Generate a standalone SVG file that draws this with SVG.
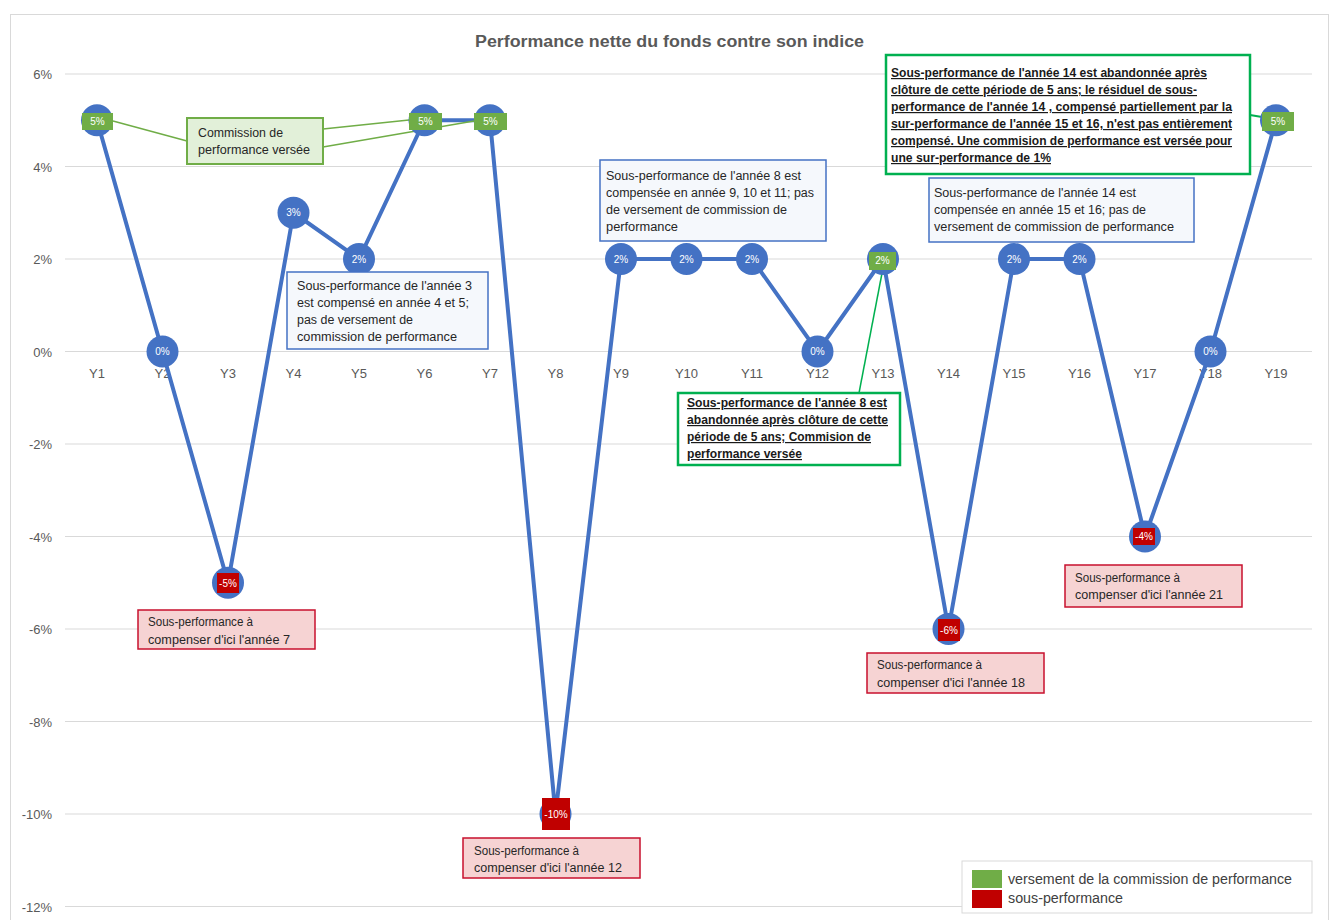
<svg xmlns="http://www.w3.org/2000/svg" width="1333" height="920" viewBox="0 0 1333 920">
<style>
text{font-family:"Liberation Sans",Arial,sans-serif}
.grid{stroke:#D9D9D9;stroke-width:1}
.ax{font-size:13px;fill:#595959}
.ay{font-size:13px;fill:#595959;text-anchor:end}
.dot{fill:#4472C4}
.dl{font-size:10px;fill:#FFFFFF;text-anchor:middle}
.gl{fill:#70AD47}
.rl{fill:#C00000}
.cb{fill:#F5F8FC;stroke:#4472C4;stroke-width:1.5}
.cr{fill:#F6D3D3;stroke:#C8102E;stroke-width:1.5}
.cg{fill:#E2F0D9;stroke:#70AD47;stroke-width:2}
.cgb{fill:#FFFFFF;stroke:#00B050;stroke-width:2.5}
.t{font-size:12px;fill:#262626}
.tb{font-size:12px;fill:#1a1a1a;font-weight:bold;text-decoration:underline}
.lg{font-size:14px;fill:#404040}
</style>
<rect x="0" y="0" width="1333" height="920" fill="#FFFFFF"/>
<rect x="10.5" y="14.5" width="1318" height="920" fill="#FFFFFF" stroke="#D9D9D9" stroke-width="1"/>
<text x="669.5" y="47" text-anchor="middle" font-size="16" font-weight="bold" fill="#595959" textLength="389" lengthAdjust="spacingAndGlyphs">Performance nette du fonds contre son indice</text>
<g id="gridlines">
<line class="grid" x1="65" y1="74" x2="1312" y2="74"/>
<line class="grid" x1="65" y1="166.5" x2="1312" y2="166.5"/>
<line class="grid" x1="65" y1="259" x2="1312" y2="259"/>
<line class="grid" x1="65" y1="351.5" x2="1312" y2="351.5"/>
<line class="grid" x1="65" y1="444" x2="1312" y2="444"/>
<line class="grid" x1="65" y1="536.5" x2="1312" y2="536.5"/>
<line class="grid" x1="65" y1="629" x2="1312" y2="629"/>
<line class="grid" x1="65" y1="721.5" x2="1312" y2="721.5"/>
<line class="grid" x1="65" y1="814" x2="1312" y2="814"/>
<line class="grid" x1="65" y1="906.5" x2="1312" y2="906.5"/>
</g>
<g id="y-axis">
<text class="ay" x="52" y="79">6%</text>
<text class="ay" x="52" y="171.5">4%</text>
<text class="ay" x="52" y="264">2%</text>
<text class="ay" x="52" y="356.5">0%</text>
<text class="ay" x="52" y="449">-2%</text>
<text class="ay" x="52" y="541.5">-4%</text>
<text class="ay" x="52" y="634">-6%</text>
<text class="ay" x="52" y="726.5">-8%</text>
<text class="ay" x="52" y="819">-10%</text>
<text class="ay" x="52" y="911.5">-12%</text>
</g>
<g id="x-axis" text-anchor="middle">
<text class="ax" x="97" y="378">Y1</text>
<text class="ax" x="162.5" y="378">Y2</text>
<text class="ax" x="228" y="378">Y3</text>
<text class="ax" x="293.5" y="378">Y4</text>
<text class="ax" x="359" y="378">Y5</text>
<text class="ax" x="424.5" y="378">Y6</text>
<text class="ax" x="490" y="378">Y7</text>
<text class="ax" x="555.5" y="378">Y8</text>
<text class="ax" x="621" y="378">Y9</text>
<text class="ax" x="686.5" y="378">Y10</text>
<text class="ax" x="752" y="378">Y11</text>
<text class="ax" x="817.5" y="378">Y12</text>
<text class="ax" x="883" y="378">Y13</text>
<text class="ax" x="948.5" y="378">Y14</text>
<text class="ax" x="1014" y="378">Y15</text>
<text class="ax" x="1079.5" y="378">Y16</text>
<text class="ax" x="1145" y="378">Y17</text>
<text class="ax" x="1210.5" y="378">Y18</text>
<text class="ax" x="1276" y="378">Y19</text>
</g>
<g id="connectors" fill="none">
<polyline stroke="#4472C4" stroke-width="4" stroke-linejoin="round" points="97,120.25 162.5,351.5 228,582.75 293.5,212.75 359,259 424.5,120.25 490,120.25 555.5,814 621,259 686.5,259 752,259 817.5,351.5 883,259 948.5,629 1014,259 1079.5,259 1145,536.5 1210.5,351.5 1276,120.25"/>
<line x1="113" y1="121" x2="187" y2="141" stroke="#70AD47" stroke-width="1.5"/>
<line x1="323" y1="129" x2="409" y2="120" stroke="#70AD47" stroke-width="1.5"/>
<line x1="323" y1="147" x2="474" y2="121" stroke="#70AD47" stroke-width="1.5"/>
<line x1="859" y1="393" x2="883" y2="268" stroke="#00B050" stroke-width="1.5"/>
<line x1="1250" y1="115" x2="1262" y2="117" stroke="#00B050" stroke-width="2"/>
</g>
<g id="Y1"><circle class="dot" cx="97" cy="120.25" r="16"/><rect class="gl" x="82" y="113" width="31" height="17"/><text class="dl" x="97.5" y="125">5%</text></g>
<g id="Y2"><circle class="dot" cx="162.5" cy="351.5" r="16"/><text class="dl" x="162.5" y="355">0%</text></g>
<g id="Y3"><circle class="dot" cx="228" cy="582.75" r="16"/><rect class="rl" x="217" y="573" width="22" height="20"/><text class="dl" x="228" y="587">-5%</text></g>
<g id="Y4"><circle class="dot" cx="293.5" cy="212.75" r="16"/><text class="dl" x="293.5" y="216">3%</text></g>
<g id="Y5"><circle class="dot" cx="359" cy="259" r="16"/><text class="dl" x="359" y="263">2%</text></g>
<g id="Y6"><circle class="dot" cx="424.5" cy="120.25" r="16"/><rect class="gl" x="409" y="113" width="33" height="17"/><text class="dl" x="425.5" y="125">5%</text></g>
<g id="Y7"><circle class="dot" cx="490" cy="120.25" r="16"/><rect class="gl" x="474" y="113" width="33" height="17"/><text class="dl" x="490.5" y="125">5%</text></g>
<g id="Y8"><circle class="dot" cx="555.5" cy="814" r="16"/><rect class="rl" x="542" y="798" width="28" height="32"/><text class="dl" x="556" y="818">-10%</text></g>
<g id="Y9"><circle class="dot" cx="621" cy="259" r="16"/><text class="dl" x="621" y="263">2%</text></g>
<g id="Y10"><circle class="dot" cx="686.5" cy="259" r="16"/><text class="dl" x="686.5" y="263">2%</text></g>
<g id="Y11"><circle class="dot" cx="752" cy="259" r="16"/><text class="dl" x="752" y="263">2%</text></g>
<g id="Y12"><circle class="dot" cx="817.5" cy="351.5" r="16"/><text class="dl" x="817.5" y="355">0%</text></g>
<g id="Y13"><circle class="dot" cx="883" cy="259" r="16"/><rect class="gl" x="869" y="252" width="27" height="18"/><text class="dl" x="882.5" y="264">2%</text></g>
<g id="Y14"><circle class="dot" cx="948.5" cy="629" r="16"/><rect class="rl" x="938" y="619" width="22" height="22"/><text class="dl" x="949" y="633.5">-6%</text></g>
<g id="Y15"><circle class="dot" cx="1014" cy="259" r="16"/><text class="dl" x="1014" y="263">2%</text></g>
<g id="Y16"><circle class="dot" cx="1079.5" cy="259" r="16"/><text class="dl" x="1079.5" y="263">2%</text></g>
<g id="Y17"><circle class="dot" cx="1145" cy="536.5" r="16"/><rect class="rl" x="1133" y="528" width="22" height="17"/><text class="dl" x="1144" y="540">-4%</text></g>
<g id="Y18"><circle class="dot" cx="1210.5" cy="351.5" r="16"/><text class="dl" x="1210.5" y="355">0%</text></g>
<g id="Y19"><circle class="dot" cx="1276" cy="120.25" r="16"/><rect class="gl" x="1262" y="112" width="32" height="19"/><text class="dl" x="1278" y="125">5%</text></g>
<g id="callout-commission">
<rect class="cg" x="187" y="118" width="136" height="46"/>
<text class="t" x="198" y="137" textLength="85" lengthAdjust="spacingAndGlyphs">Commission de</text>
<text class="t" x="198" y="154" textLength="112" lengthAdjust="spacingAndGlyphs">performance versée</text>
</g>
<g id="callout-annee3">
<rect class="cb" x="287" y="272" width="201" height="77"/>
<text class="t" x="297" y="290" textLength="175" lengthAdjust="spacingAndGlyphs">Sous-performance de l'année 3</text>
<text class="t" x="297" y="307" textLength="172" lengthAdjust="spacingAndGlyphs">est compensé en année 4 et 5;</text>
<text class="t" x="297" y="324" textLength="116" lengthAdjust="spacingAndGlyphs">pas de versement de</text>
<text class="t" x="297" y="341" textLength="160" lengthAdjust="spacingAndGlyphs">commission de performance</text>
</g>
<g id="callout-annee8">
<rect class="cb" x="600" y="160" width="226" height="81"/>
<text class="t" x="606" y="180" textLength="195" lengthAdjust="spacingAndGlyphs">Sous-performance de l'année 8 est</text>
<text class="t" x="606" y="197" textLength="208" lengthAdjust="spacingAndGlyphs">compensée en année 9, 10 et 11; pas</text>
<text class="t" x="606" y="214" textLength="181" lengthAdjust="spacingAndGlyphs">de versement de commission de</text>
<text class="t" x="606" y="231" textLength="72" lengthAdjust="spacingAndGlyphs">performance</text>
</g>
<g id="callout-annee14">
<rect class="cb" x="929" y="178" width="265" height="64"/>
<text class="t" x="934" y="197" textLength="202" lengthAdjust="spacingAndGlyphs">Sous-performance de l'année 14 est</text>
<text class="t" x="934" y="214" textLength="212" lengthAdjust="spacingAndGlyphs">compensée en année 15 et 16; pas de</text>
<text class="t" x="934" y="231" textLength="240" lengthAdjust="spacingAndGlyphs">versement de commission de performance</text>
</g>
<g id="callout-abandon14">
<rect class="cgb" x="886" y="55" width="364" height="119"/>
<text class="tb" x="891" y="77" textLength="316" lengthAdjust="spacingAndGlyphs">Sous-performance de l'année 14 est abandonnée après</text>
<text class="tb" x="891" y="94" textLength="306" lengthAdjust="spacingAndGlyphs">clôture de cette période de 5 ans; le résiduel de sous-</text>
<text class="tb" x="891" y="111" textLength="341" lengthAdjust="spacingAndGlyphs">performance de l'année 14 , compensé partiellement par la</text>
<text class="tb" x="891" y="128" textLength="341" lengthAdjust="spacingAndGlyphs">sur-performance de l'année 15 et 16, n'est pas entièrement</text>
<text class="tb" x="891" y="145" textLength="341" lengthAdjust="spacingAndGlyphs">compensé. Une commision de performance est versée pour</text>
<text class="tb" x="891" y="162" textLength="160" lengthAdjust="spacingAndGlyphs">une sur-performance de 1%</text>
</g>
<g id="callout-abandon8">
<rect class="cgb" x="678" y="393" width="222" height="72"/>
<text class="tb" x="687" y="407" textLength="200" lengthAdjust="spacingAndGlyphs">Sous-performance de l'année 8 est</text>
<text class="tb" x="687" y="424" textLength="201" lengthAdjust="spacingAndGlyphs">abandonnée après clôture de cette</text>
<text class="tb" x="687" y="441" textLength="184" lengthAdjust="spacingAndGlyphs">période de 5 ans; Commision de</text>
<text class="tb" x="687" y="458" textLength="115" lengthAdjust="spacingAndGlyphs">performance versée</text>
</g>
<g id="callout-compenser7">
<rect class="cr" x="138" y="610" width="177" height="39"/>
<text class="t" x="148" y="626" textLength="105" lengthAdjust="spacingAndGlyphs">Sous-performance à</text>
<text class="t" x="148" y="644" textLength="142" lengthAdjust="spacingAndGlyphs">compenser d'ici l'année 7</text>
</g>
<g id="callout-compenser12">
<rect class="cr" x="463" y="838" width="177" height="40"/>
<text class="t" x="474" y="855" textLength="105" lengthAdjust="spacingAndGlyphs">Sous-performance à</text>
<text class="t" x="474" y="872" textLength="148" lengthAdjust="spacingAndGlyphs">compenser d'ici l'année 12</text>
</g>
<g id="callout-compenser18">
<rect class="cr" x="867" y="653" width="177" height="40"/>
<text class="t" x="877" y="669" textLength="105" lengthAdjust="spacingAndGlyphs">Sous-performance à</text>
<text class="t" x="877" y="687" textLength="148" lengthAdjust="spacingAndGlyphs">compenser d'ici l'année 18</text>
</g>
<g id="callout-compenser21">
<rect class="cr" x="1065" y="565" width="177" height="42"/>
<text class="t" x="1075" y="582" textLength="105" lengthAdjust="spacingAndGlyphs">Sous-performance à</text>
<text class="t" x="1075" y="599" textLength="148" lengthAdjust="spacingAndGlyphs">compenser d'ici l'année 21</text>
</g>
<g id="legend">
<rect x="962" y="861" width="350" height="52" fill="#FFFFFF" stroke="#D9D9D9" stroke-width="1"/>
<rect x="972" y="870" width="30" height="18" fill="#70AD47"/>
<rect x="972" y="890" width="30" height="18" fill="#C00000"/>
<text class="lg" x="1008" y="884" textLength="284" lengthAdjust="spacingAndGlyphs">versement de la commission de performance</text>
<text class="lg" x="1008" y="903" textLength="115" lengthAdjust="spacingAndGlyphs">sous-performance</text>
</g>
</svg>
